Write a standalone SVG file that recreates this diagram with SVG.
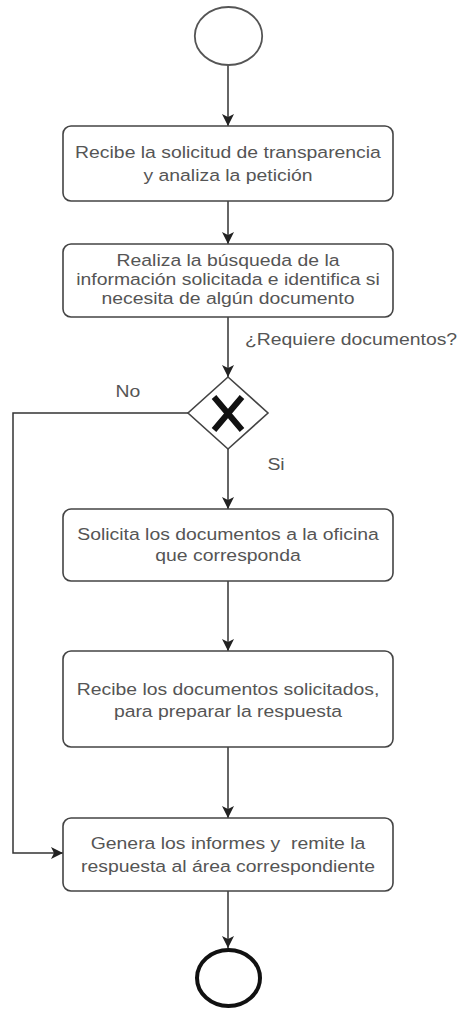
<svg xmlns="http://www.w3.org/2000/svg" width="460" height="1010" viewBox="0 0 460 1010">
<style>
.box{fill:#fff;stroke:#444;stroke-width:1.6}
.t{font-family:"Liberation Sans",Arial,sans-serif;font-size:17px;fill:#555;text-anchor:middle}
.ts{font-family:"Liberation Sans",Arial,sans-serif;font-size:17px;fill:#555;text-anchor:start}
.c{fill:none;stroke:#333;stroke-width:1.5}
</style>
<defs>
<marker id="arr" markerUnits="userSpaceOnUse" markerWidth="12" markerHeight="12" refX="12" refY="6" orient="auto">
<path d="M0,0 L12,6 L0,12 L3,6 Z" fill="#222"/>
</marker>
</defs>
<rect width="460" height="1010" fill="#fff"/>
<g id="connectors">
<line class="c" x1="228" y1="65" x2="228" y2="126" marker-end="url(#arr)"/>
<line class="c" x1="228" y1="201" x2="228" y2="244" marker-end="url(#arr)"/>
<line class="c" x1="228" y1="317" x2="228" y2="377" marker-end="url(#arr)"/>
<line class="c" x1="228" y1="449" x2="228" y2="509" marker-end="url(#arr)"/>
<line class="c" x1="228" y1="581" x2="228" y2="651" marker-end="url(#arr)"/>
<line class="c" x1="228" y1="747" x2="228" y2="818" marker-end="url(#arr)"/>
<line class="c" x1="228" y1="891" x2="228" y2="948" marker-end="url(#arr)"/>
<polyline class="c" points="188,413 13,413 13,853 63,853" marker-end="url(#arr)"/>
<text class="ts" transform="translate(245 345) scale(1.14 1)">¿Requiere documentos?</text>
<text class="t" transform="translate(128 397) scale(1.14 1)">No</text>
<text class="t" transform="translate(276 470) scale(1.14 1)">Si</text>
</g>
<g id="start">
<ellipse cx="228.5" cy="36" rx="33.7" ry="29" fill="#fff" stroke="#555" stroke-width="1.8"/>
</g>
<g id="task1">
<rect class="box" x="63" y="126" width="330" height="75" rx="8"/>
<text class="t" transform="translate(228 158) scale(1.14 1)">Recibe la solicitud de transparencia</text>
<text class="t" transform="translate(228 181) scale(1.14 1)">y analiza la petición</text>
</g>
<g id="task2">
<rect class="box" x="63" y="244" width="330" height="73" rx="8"/>
<text class="t" transform="translate(228 266) scale(1.14 1)">Realiza la búsqueda de la</text>
<text class="t" transform="translate(228 285) scale(1.14 1)">información solicitada e identifica si</text>
<text class="t" transform="translate(228 304) scale(1.14 1)">necesita de algún documento</text>
</g>
<g id="gateway">
<polygon points="228,377 268,413 228,449 188,413" fill="#fff" stroke="#444" stroke-width="1.6"/>
<path d="M214,397 L242,430 M242,397 L214,430" stroke="#111" stroke-width="6" fill="none"/>
</g>
<g id="task3">
<rect class="box" x="63" y="509" width="330" height="72" rx="8"/>
<text class="t" transform="translate(228 540) scale(1.14 1)">Solicita los documentos a la oficina</text>
<text class="t" transform="translate(228 561) scale(1.14 1)">que corresponda</text>
</g>
<g id="task4">
<rect class="box" x="63" y="651" width="330" height="96" rx="8"/>
<text class="t" transform="translate(228 695) scale(1.14 1)">Recibe los documentos solicitados,</text>
<text class="t" transform="translate(228 717) scale(1.14 1)">para preparar la respuesta</text>
</g>
<g id="task5">
<rect class="box" x="63" y="818" width="330" height="73" rx="8"/>
<text class="t" xml:space="preserve" transform="translate(228 849) scale(1.14 1)">Genera los informes y  remite la</text>
<text class="t" transform="translate(228 872) scale(1.14 1)">respuesta al área correspondiente</text>
</g>
<g id="end">
<ellipse cx="228.5" cy="978" rx="31.5" ry="28" fill="#fff" stroke="#111" stroke-width="4"/>
</g>
</svg>
